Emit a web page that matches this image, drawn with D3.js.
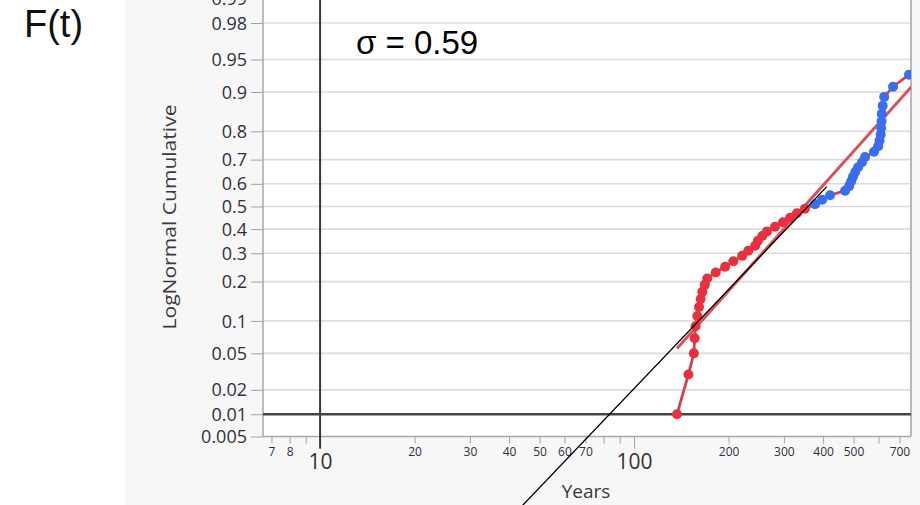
<!DOCTYPE html>
<html>
<head>
  <meta charset="utf-8">
  <script src="https://cdnjs.cloudflare.com/ajax/libs/d3/7.8.5/d3.min.js"></script>
  <style>
    body { margin: 0; padding: 0; background: #fff; }
    svg { display: block; }
    .axis text { font-family: "Open Sans", sans-serif; fill: #303040; }
    .axis path { display: none; }
    .axis line { stroke: #a0a0a0; }
    .grid line { stroke: #dcdcdc; stroke-width: 1.6px; }
    .trace { fill: none; stroke: #d8414c; stroke-width: 2.8px; }
    .fit { fill: none; stroke: #d9535c; stroke-width: 3px; }
  </style>
</head>
<body>
<svg width="920" height="505"></svg>
<script>
// probability plot values (Years, LogNormal cumulative)
let earlyYears = [137, 149, 155, 156, 157, 159, 161, 163, 165, 168, 171, 182, 195,
  207, 221, 231, 243, 248, 256, 265, 281, 298, 314, 330, 350];
let earlyProbs = [0.01, 0.03, 0.05, 0.07, 0.09, 0.11, 0.13, 0.15, 0.17, 0.19, 0.21, 0.23, 0.25,
  0.27, 0.29, 0.31, 0.33, 0.35, 0.37, 0.39, 0.41, 0.43, 0.45, 0.47, 0.49];
let lateYears = [377, 397, 421, 470, 484, 491, 498, 506, 517, 532, 544, 581, 599, 605,
  610, 612, 614, 615, 619, 626, 668, 751];
let lateProbs = [0.51, 0.53, 0.55, 0.57, 0.59, 0.61, 0.63, 0.65, 0.67, 0.69, 0.71, 0.73, 0.75, 0.77,
  0.79, 0.81, 0.83, 0.85, 0.87, 0.89, 0.91, 0.93];

// fitted lognormal line and the hand drawn tangent
let fitYears = [137, 1000];
let fitProbs = [0.056, 0.964];
let handYears = [44, 411];
let handProbs = [0.0004, 0.588];

// axis ticks
let probTicks = [0.005, 0.01, 0.02, 0.05, 0.1, 0.2, 0.3, 0.4, 0.5, 0.6, 0.7, 0.8, 0.9, 0.95, 0.98, 0.99];
let yearTicks = [7, 8, 9, 20, 30, 40, 50, 60, 70, 80, 90, 200, 300, 400, 500, 600, 700];
let yearLabels = ["7", "8", "", "20", "30", "40", "50", "60", "70", "", "", "200", "300", "400", "500", "", "700"];
let bigYears = [10, 100];
let sigmaText = "\u03c3 = 0.59";

// inverse normal cdf (Acklam)
function probit(p) {
  let a = [-39.69683028665376, 220.9460984245205, -275.9285104469687, 138.3577518672690, -30.66479806614716, 2.506628277459239],
    b = [-54.47609879822406, 161.5858368580409, -155.6989798598866, 66.80131188771972, -13.28068155288572],
    c = [-0.007784894002430293, -0.3223964580411365, -2.400758277161838, -2.549732539343734, 4.374664141464968, 2.938163982698783],
    d = [0.007784695709041462, 0.3224671290700398, 2.445134137142996, 3.754408661907416],
    lo = 0.02425, q, r;
  if (p < lo) {
    q = Math.sqrt(-2 * Math.log(p));
    return (((((c[0] * q + c[1]) * q + c[2]) * q + c[3]) * q + c[4]) * q + c[5]) /
      ((((d[0] * q + d[1]) * q + d[2]) * q + d[3]) * q + 1);
  }
  if (p > 1 - lo) return -probit(1 - p);
  q = p - 0.5; r = q * q;
  return (((((a[0] * r + a[1]) * r + a[2]) * r + a[3]) * r + a[4]) * r + a[5]) * q /
    (((((b[0] * r + b[1]) * r + b[2]) * r + b[3]) * r + b[4]) * r + 1);
}

let svg = d3.select("svg"),
  plot = { left: 263, right: 911, top: 0, bottom: 436.5 };

let x = d3.scaleLog().domain([6.58, 762]).range([plot.left, plot.right]);
let yz = d3.scaleLinear().domain([probit(0.005), probit(0.9896)]).range([plot.bottom, plot.top]);
let y = function(p) { return yz(probit(p)); };

//backgrounds
svg.append("rect").attr("width", 920).attr("height", 505).attr("fill", "#fff");
svg.append("rect").attr("x", 125).attr("width", 795).attr("height", 505).attr("fill", "#f7f7f7");
svg.append("rect").attr("x", plot.left).attr("y", plot.top)
  .attr("width", plot.right - plot.left).attr("height", plot.bottom - plot.top).attr("fill", "#fff");

svg.append("clipPath").attr("id", "clip").append("rect")
  .attr("x", plot.left).attr("y", plot.top)
  .attr("width", plot.right - plot.left).attr("height", plot.bottom - plot.top);

//horizontal grid
svg.append("g").attr("class", "grid")
  .selectAll("line").data(probTicks.slice(1)).enter().append("line")
  .attr("x1", plot.left).attr("x2", plot.right)
  .attr("y1", function(d) { return y(d); }).attr("y2", function(d) { return y(d); });

//y axis (0.99 sits just above the window, as in the source)
let yAxis = svg.append("g").attr("class", "axis")
  .attr("transform", "translate(" + plot.left + ",0)")
  .call(d3.axisLeft(yz).tickValues(probTicks.map(probit)).tickSize(12).tickPadding(4)
    .tickFormat(function(d, i) { return probTicks[i]; }));
yAxis.selectAll("text").style("font-size", "18px").attr("dy", "0.34em");

//x axis small ticks
let xAxis = svg.append("g").attr("class", "axis")
  .attr("transform", "translate(0," + plot.bottom + ")")
  .call(d3.axisBottom(x).tickValues(yearTicks).tickSize(7).tickPadding(4)
    .tickFormat(function(d, i) { return yearLabels[i]; }));
xAxis.selectAll("text").style("font-size", "12px");

//x axis big labels
let big = svg.append("g").attr("class", "axis")
  .attr("transform", "translate(0," + plot.bottom + ")")
  .call(d3.axisBottom(x).tickValues(bigYears).tickSize(12).tickPadding(6).tickFormat(d3.format("d")));
big.selectAll("text").style("font-size", "21px").style("fill", "#333");

//axis frame
svg.append("line").attr("x1", plot.left).attr("x2", plot.left).attr("y1", 0).attr("y2", plot.bottom)
  .attr("stroke", "#a8a8a8").attr("stroke-width", 1.5);
svg.append("line").attr("x1", plot.left).attr("x2", plot.right).attr("y1", plot.bottom).attr("y2", plot.bottom)
  .attr("stroke", "#a8a8a8").attr("stroke-width", 1.5);
svg.append("line").attr("x1", plot.right).attr("x2", plot.right).attr("y1", 0).attr("y2", plot.bottom)
  .attr("stroke", "#b8b8b8").attr("stroke-width", 2);

//reference lines at 10 years and 1%
svg.append("line").attr("x1", x(10)).attr("x2", x(10)).attr("y1", 0).attr("y2", plot.bottom + 12)
  .attr("stroke", "#383838").attr("stroke-width", 2);
svg.append("line").attr("x1", plot.left).attr("x2", plot.right).attr("y1", y(0.01)).attr("y2", y(0.01))
  .attr("stroke", "#444").attr("stroke-width", 2.5);

//axis titles
svg.append("text")
  .attr("transform", "translate(176,217) rotate(-90)")
  .attr("text-anchor", "middle")
  .attr("textLength", 225).attr("lengthAdjust", "spacingAndGlyphs")
  .style("font", "18px 'Open Sans', sans-serif").style("fill", "#3a3a3a")
  .text("LogNormal Cumulative");
svg.append("text")
  .attr("x", 586).attr("y", 498)
  .attr("text-anchor", "middle")
  .style("font", "19px 'Open Sans', sans-serif").style("fill", "#3a3a3a")
  .text("Years");

//data
let all = earlyYears.map(function(t, i) { return { t: t, p: earlyProbs[i], g: "early" }; })
  .concat(lateYears.map(function(t, i) { return { t: t, p: lateProbs[i], g: "late" }; }));
let color = d3.scaleOrdinal().domain(["early", "late"]).range(["#e8303f", "#3a6ef0"]);

let line = d3.line()
  .x(function(d) { return x(d.t); })
  .y(function(d) { return y(d.p); });

let data = svg.append("g").attr("clip-path", "url(#clip)");

data.append("path").attr("class", "fit")
  .attr("d", line(fitYears.map(function(t, i) { return { t: t, p: fitProbs[i] }; })));

data.append("path").attr("class", "trace").attr("d", line(all));

data.selectAll("circle").data(all).enter().append("circle")
  .attr("cx", function(d) { return x(d.t); })
  .attr("cy", function(d) { return y(d.p); })
  .attr("r", 5)
  .attr("fill", function(d) { return color(d.g); });

//hand drawn tangent line
svg.append("path")
  .attr("d", line(handYears.map(function(t, i) { return { t: t, p: handProbs[i] }; })))
  .attr("fill", "none").attr("stroke", "#000").attr("stroke-width", 1.3);

//annotations
svg.append("text").attr("x", 24).attr("y", 37)
  .style("font", "38px 'Liberation Sans', Arial, sans-serif").style("fill", "#111")
  .text("F(t)");
svg.append("text").attr("x", 356).attr("y", 54)
  .style("font", "33px 'Liberation Sans', Arial, sans-serif").style("fill", "#000")
  .text(sigmaText);
</script>
</body>
</html>
